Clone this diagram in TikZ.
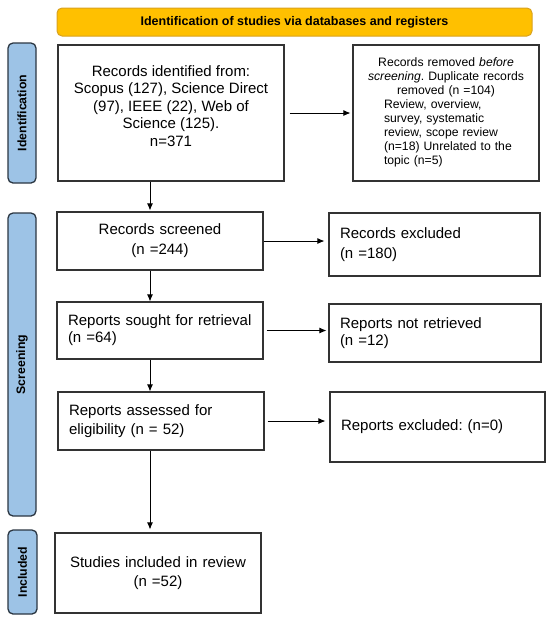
\documentclass[tikz,border=0pt]{standalone}
\usepackage{fontspec}
\setmainfont{Liberation Sans}
\usepackage{xcolor}
\usetikzlibrary{arrows.meta, math}
\frenchspacing

\definecolor{bannerfill}{HTML}{FFC000}
\definecolor{bannerline}{HTML}{D9A21E}
\definecolor{phasefill}{HTML}{9DC3E6}
\definecolor{phaseline}{HTML}{2B3642}
\definecolor{boxline}{HTML}{333333}

\tikzset{
  box/.style={draw=boxline, line width=1.2pt, inner xsep=11pt, inner ysep=0pt},
  phase/.style={draw=phaseline, fill=phasefill, line width=1.3pt, rounded corners=5pt,
    rotate=90, inner sep=0pt, font=\bfseries\fontsize{12.3}{14}\selectfont},
  banner/.style={draw=bannerline, fill=bannerfill, line width=1pt, rounded corners=5pt,
    inner sep=0pt, font=\bfseries\fontsize{12.5}{15}\selectfont},
  flow/.style={-{Latex[length=7pt,width=6pt]}, line width=0.8pt},
  bigtxt/.style={font=\fontsize{15}{#1}\selectfont},
}

\begin{document}
\begin{tikzpicture}[x=1pt, y=-1pt]
\tikzmath{
\sx=150;
}
\useasboundingbox (0,0) rectangle (550,622);
\coordinate (spine) at (\sx,0);

% heading and phases
\node[banner, minimum width=475, minimum height=28] (head) at (294.5,22) {Identification of studies via databases and registers};
\node[phase, minimum width=140, minimum height=28] (idphase) at (22,113) {Identification};
\node[phase, minimum width=303, minimum height=28] (scphase) at (22,364.5) {Screening};
\node[phase, minimum width=84, minimum height=29] (inphase) at (22.5,572) {Included};

% identification
\node[box, minimum width=226, minimum height=136] (ident) at (171,113) {};
\node[bigtxt=17.4, align=center] (identtxt) at (171,106)
  {Records identified from:\\Scopus (127), Science Direct\\(97), IEEE (22), Web of\\Science (125).\\n=371};
\node[box, text width=170, inner xsep=8pt, minimum height=136, align=left,
  font=\fontsize{12.2}{14}\selectfont] (removed) at (446,113)
  {{\centering Records removed \textit{before}\\\textit{screening}. Duplicate records\\removed (n =104)\par}
   \hspace*{23pt}\begin{tabular}[t]{@{}l@{}}Review, overview,\\survey, systematic\\review, scope review\\(n=18) Unrelated to the\\topic (n=5)\end{tabular}};

% screening
\node[box, bigtxt=20, text width=184, minimum height=58, align=center] (screened) at (160,241) {Records screened\\(n =244)};
\node[box, bigtxt=20, text width=189, minimum height=63, align=left] (excluded) at (434.5,244.5) {Records excluded\\(n =180)};
\node[box, bigtxt=17, text width=184, minimum height=57, align=left] (sought) at (160,330.5) {Reports sought for retrieval\\(n =64)};
\node[box, bigtxt=17, text width=190, minimum height=58, align=left] (notretr) at (435,333) {Reports not retrieved\\(n =12)};
\node[box, bigtxt=18.5, text width=184, minimum height=58, align=left] (assessed) at (161,421) {Reports assessed for\\eligibility (n = 52)};
\node[box, bigtxt=18.5, text width=193, minimum height=70, align=left] (repexcl) at (437.5,427) {Reports excluded: (n=0)};

% included
\node[box, bigtxt=18.5, text width=184, minimum height=80, align=center] (included) at (158,573) {Studies included in review\\(n =52)};

% arrows
\draw[flow, shorten <=5pt, shorten >=2pt] (ident.east) -- (removed.west);
\draw[flow, shorten >=4pt] (screened.east) -- (screened.east -| excluded.west);
\draw[flow, shorten <=3pt, shorten >=2pt] (sought.east) -- (sought.east -| notretr.west);
\draw[flow, shorten <=3pt, shorten >=4pt] (assessed.east) -- (assessed.east -| repexcl.west);

\draw[flow, shorten >=1pt] (ident.south -| spine) -- (screened.north -| spine);
\draw[flow] (screened.south -| spine) -- (sought.north -| spine);
\draw[flow] (sought.south -| spine) -- (assessed.north -| spine);
\draw[flow, shorten >=3pt] (assessed.south -| spine) -- (included.north -| spine);

\end{tikzpicture}
\end{document}
